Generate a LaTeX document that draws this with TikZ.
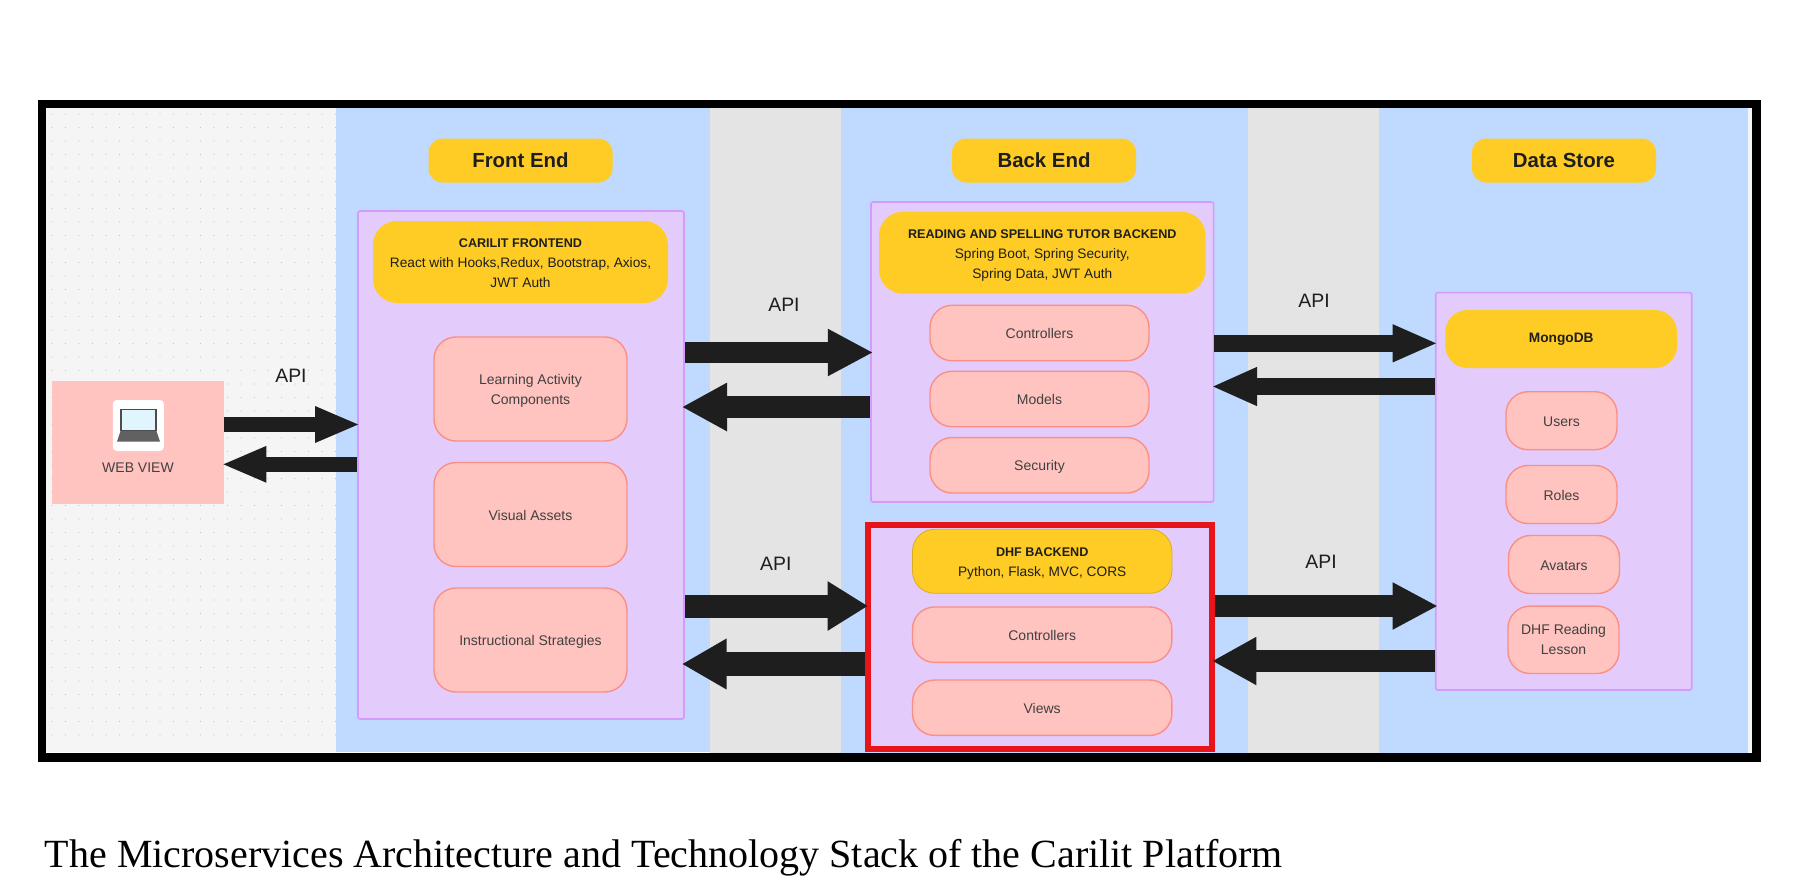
\documentclass[tikz,border=0pt]{standalone}
\usepackage{fontspec}
\setmainfont{Liberation Sans}
\newfontfamily\captionfont{Liberation Serif}
\usetikzlibrary{arrows.meta}

\definecolor{bandblue}{HTML}{C0D9FE}
\definecolor{bandgray}{HTML}{E4E4E4}
\definecolor{sheet}{HTML}{F5F5F5}
\definecolor{lilac}{HTML}{E3CBFB}
\definecolor{lilacline}{HTML}{D39BFD}
\definecolor{pink}{HTML}{FFC4C0}
\definecolor{pinkline}{HTML}{FB8F86}
\definecolor{amber}{HTML}{FFCC26}
\definecolor{ink}{HTML}{1E1E1E}
\newcommand{\stackname}[1]{{\fontsize{6.3}{10}\selectfont\bfseries #1}}

\begin{document}
\begin{tikzpicture}[
  x=0.5pt, y=-0.5pt,
  font=\fontsize{7}{10}\selectfont,
  band/.style={inner sep=0pt, outer sep=0pt, anchor=north west},
  group/.style={draw=lilacline, fill=lilac, line width=0.8pt, inner sep=0pt, rounded corners=1pt},
  head/.style={fill=amber, rounded corners=7pt, align=center, inner sep=0pt,
               minimum width=92pt, minimum height=22pt,
               font=\fontsize{10.2}{12}\selectfont\bfseries, text=ink},
  stack/.style={fill=amber, align=center, inner sep=0pt, text=ink,
                font=\fontsize{6.85}{10}\selectfont},
  part/.style={draw=pinkline, fill=pink, line width=0.7pt, align=center, inner sep=0pt,
               text=black!75, execute at begin node={\rule[-1.6pt]{0pt}{8.7pt}}},
  tall/.style={text height=#1, text depth=0pt},
  api/.style={font=\fontsize{9.7}{12}\selectfont, text=ink, inner sep=0pt},
]
  % page and frame
  \useasboundingbox (0,0) rectangle (1796,891);
  \node[band, fill=sheet, minimum width=853pt, minimum height=322pt] (sheet) at (46,108) {};
  \foreach \y in {0,...,46}
    \foreach \x in {0,...,21}
      \fill[black!22] (52+13.5*\x,114+13.5*\y) circle (0.35pt);

  \node[band, fill=bandblue, minimum width=187pt, minimum height=321.8pt] (bfront) at (336,108) {};
  \node[band, fill=bandgray, minimum width=65.5pt, minimum height=322.5pt] (gleft) at (710,108) {};
  \node[band, fill=bandblue, minimum width=203.5pt, minimum height=322.5pt] (bback) at (841,108) {};
  \node[band, fill=bandgray, minimum width=65.5pt, minimum height=322.5pt] (gright) at (1248,108) {};
  \node[band, fill=bandblue, minimum width=184.5pt, minimum height=322.5pt] (bdata) at (1379,108) {};
  \node[band, draw=black, line width=4.3pt, minimum width=857.3pt, minimum height=326.8pt] (frame) at (42,104) {};

  % column titles
  \node[head] (tfront) at (520.5,160.5) {Front End};
  \node[head] (tback) at (1044,160.5) {Back End};
  \node[head] (tdata) at (1564,160.5) {Data Store};

  % web view
  \node[fill=pink, minimum width=86pt, minimum height=61.5pt, inner sep=0pt] (web) at (138,442.5) {};
  \node[fill=white, rounded corners=2pt, minimum width=25.5pt, minimum height=25.5pt, inner sep=0pt] (icon) at (138.3,425.5) {};
  \node[draw=black!70, fill=cyan!12, line width=0.7pt, minimum width=17.5pt, minimum height=10.5pt, inner sep=0pt] (screen) at (138.3,420) {};
  \fill[black!62] (120.5,431) -- (156.5,431) -- (160,441.5) -- (117,441.5) -- cycle;
  \node[text=black!75, inner sep=0pt] (weblabel) at (138,467.7) {WEB VIEW};

  % front end
  \node[group, minimum width=163pt, minimum height=254pt] (front) at (521,465) {};
  \node[stack, tall=25.6pt, rounded corners=12pt, minimum width=147.5pt, minimum height=41pt] (carilit) at (520.5,262)
    {\stackname{CARILIT FRONTEND}\\React with Hooks,Redux, Bootstrap, Axios,\\JWT Auth};
  \node[part, tall=15.5pt, rounded corners=11pt, minimum width=96.5pt, minimum height=52pt] (learn) at (530.5,389) {Learning Activity\\Components};
  \node[part, rounded corners=11pt, minimum width=96.5pt, minimum height=52pt] (visual) at (530.5,514.5) {Visual Assets};
  \node[part, rounded corners=11pt, minimum width=96.5pt, minimum height=52pt] (instr) at (530.5,640) {Instructional Strategies};

  % back end
  \node[group, minimum width=171.3pt, minimum height=150pt] (tutor) at (1042.3,352) {};
  \node[stack, tall=26pt, rounded corners=12pt, minimum width=163.3pt, minimum height=41pt] (rsbe) at (1042.3,252.7)
    {\stackname{READING AND SPELLING TUTOR BACKEND}\\Spring Boot, Spring Security,\\Spring Data, JWT Auth};
  \node[part, rounded corners=11pt, minimum width=109.5pt, minimum height=27.7pt] (rctrl) at (1039.5,333) {Controllers};
  \node[part, rounded corners=11pt, minimum width=109.5pt, minimum height=27.7pt] (rmodel) at (1039.5,399) {Models};
  \node[part, rounded corners=11pt, minimum width=109.5pt, minimum height=27.7pt] (rsec) at (1039.5,465.3) {Security};

  \node[draw={rgb,255:red,232;green,20;blue,26}, fill=lilac, line width=3pt, inner sep=0pt,
        minimum width=172pt, minimum height=112pt] (dhf) at (1040,637) {};
  \node[stack, tall=15.4pt, draw=amber!85!black, line width=0.4pt, rounded corners=11pt, minimum width=129.7pt, minimum height=32pt] (dhfbe) at (1042.2,561.3)
    {\stackname{DHF BACKEND}\\Python, Flask, MVC, CORS};
  \node[part, rounded corners=11pt, minimum width=129.7pt, minimum height=27.7pt] (dctrl) at (1042.2,634.7) {Controllers};
  \node[part, rounded corners=11pt, minimum width=129.7pt, minimum height=27.7pt] (dview) at (1042.2,707.7) {Views};

  % data store
  \node[group, minimum width=128pt, minimum height=198.7pt] (store) at (1563.7,491.3) {};
  \node[stack, rounded corners=11pt, minimum width=115.8pt, minimum height=29pt] (mongo) at (1561.2,339) {\textbf{MongoDB}};
  \node[part, rounded corners=11pt, minimum width=55.5pt, minimum height=29pt] (users) at (1561.5,420.7) {Users};
  \node[part, rounded corners=11pt, minimum width=55.5pt, minimum height=29pt] (roles) at (1561.5,494.5) {Roles};
  \node[part, rounded corners=11pt, minimum width=55.5pt, minimum height=29pt] (avatars) at (1564,564.5) {Avatars};
  \node[part, tall=14.6pt, rounded corners=11pt, minimum width=55.5pt, minimum height=33.7pt] (lesson) at (1563.5,639.8) {DHF Reading\\Lesson};

  % block arrows
  \foreach \a/\b/\y/\w/\l/\h in {web/front/424.5/7.6/22.5/16.5, front/tutor/352.5/10.5/22.7/22,
      tutor/store/343.3/8.4/22.6/17.2, front/dhf/606/11.5/20.2/23.3, dhf/store/606/10.7/22.7/22}
    \draw[-{Triangle[length=\l pt, width=\h pt]}, shorten >=-1.5pt, ink, line width=\w pt] (\a.east |- 0,\y) -- (\b.west |- 0,\y);
  \foreach \a/\b/\y/\w/\l/\h in {web/front/464.3/7.8/22.5/16.5, front/tutor/407/11/22.7/22.7,
      tutor/store/386.5/8.5/22.8/17.7, front/dhf/664/11.7/22.4/23.8, dhf/store/661/11.3/22.2/22.5}
    \draw[{Triangle[length=\l pt, width=\h pt]}-, shorten <=-1.5pt, ink, line width=\w pt] (\a.east |- 0,\y) -- (\b.west |- 0,\y);

  % labels
  \node[api] (api1) at (291,375.7) {API};
  \node[api] (api2) at (784,305) {API};
  \node[api] (api3) at (1314,300.7) {API};
  \node[api] (api4) at (775.8,564) {API};
  \node[api] (api5) at (1321,561.7) {API};

  \node[anchor=base west, inner sep=0pt, font=\captionfont\fontsize{20}{24}\selectfont, text=black] (title) at (44.5,867.5)
    {The Microservices Architecture and Technology Stack of the Carilit Platform};
\end{tikzpicture}
\end{document}
